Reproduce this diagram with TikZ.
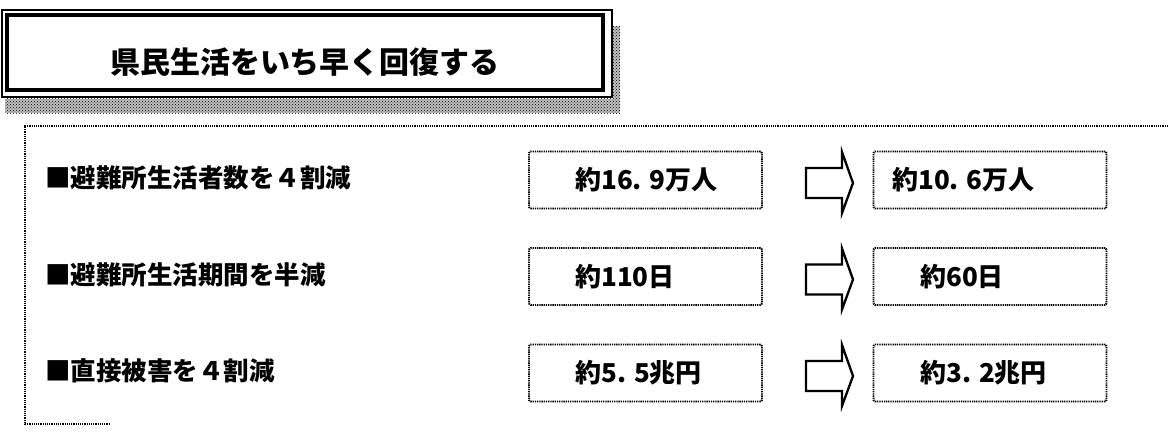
\documentclass[tikz,border=0pt]{standalone}
\usepackage{fontspec}
\newfontfamily\jp{Noto Sans CJK JP}
\usetikzlibrary{patterns}
\begin{document}
\begin{tikzpicture}[x=1pt,y=-1pt,
  titletext/.style={inner sep=0pt,font=\jp\bfseries\fontsize{30}{34}\selectfont},
  lbl/.style={anchor=west,inner sep=0pt,font=\jp\bfseries\fontsize{25.5}{30}\selectfont},
  val/.style={anchor=west,inner sep=0pt,font=\jp\bfseries\fontsize{26}{30}\selectfont},
  dotline/.style={line width=1.8pt,dash pattern=on 1.3pt off 0.9pt},
  valbox/.style={draw,dotline,rounded corners=1.5pt,minimum width=233pt,minimum height=57pt,inner sep=0pt},
  blockarrow/.style={draw,line width=2.3pt,line join=miter,fill=white},
  shadow/.style={fill=black!25,postaction={pattern=crosshatch dots,pattern color=black}}
]
\useasboundingbox (0,0) rectangle (1168,436);
% title shadow
\path[shadow] (5,99) rectangle (620,113);
\path[shadow] (613,26) rectangle (620,113);
% title frame
\node[draw,fill=white,line width=1.2pt,minimum width=610pt,minimum height=87pt,inner sep=0pt] (tframe) at (307,53.5) {};
\node[draw,line width=3.5pt,minimum width=596pt,minimum height=75pt,inner sep=0pt] (tinner) at (305,52.5) {};
\node[titletext] (title) at (305,62) {県民生活をいち早く回復する};
% main dotted frame (clipped by the page edge)
\coordinate (fTR) at (1168,126);
\coordinate (fTL) at (25,126);
\coordinate (fBL) at (25,424);
\coordinate (fBE) at (110,424);
\draw[dotline] (fTR) -- (fTL) -- (fBL) -- (fBE);
% rows
\foreach \i/\yc/\lab/\va/\vb/\xb in {
  1/180/{■避難所生活者数を４割減}/{約16. 9万人}/{約10. 6万人}/892,
  2/276.5/{■避難所生活期間を半減}/{約110日}/{約60日}/920,
  3/373/{■直接被害を４割減}/{約5. 5兆円}/{約3. 2兆円}/920}{
  \node[lbl] (lab\i) at (45,\yc-2) {\lab};
  \node[valbox] (lbox\i) at (645.5,\yc) {};
  \node[val] (lval\i) at (575,\yc) {\va};
  \node[valbox] (rbox\i) at (990,\yc) {};
  \node[val] (rval\i) at (\xb,\yc) {\vb};
  \begin{scope}[shift={(0,\yc)}]
    \draw[blockarrow] (806,-12) -- (842,-12) -- (842,-28) -- (853,3) -- (842,33) -- (842,18) -- (806,18) -- cycle;
  \end{scope}
}
\end{tikzpicture}
\end{document}
